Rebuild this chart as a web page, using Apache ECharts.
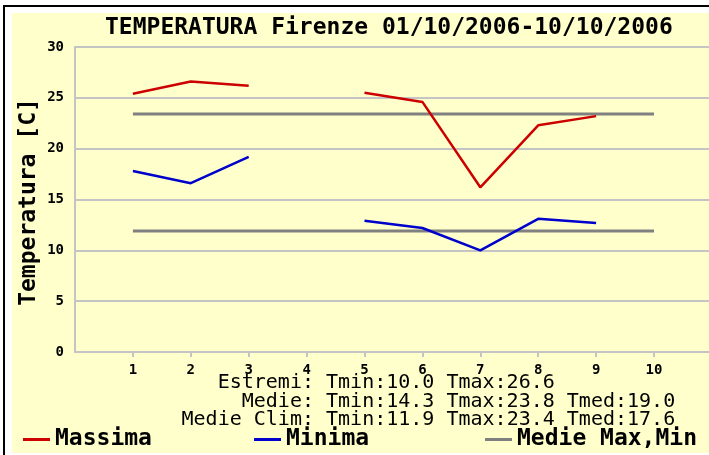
<!DOCTYPE html>
<html>
<head>
<meta charset="utf-8">
<script src="https://cdn.jsdelivr.net/npm/echarts@6/dist/echarts.min.js"></script>
<style>
  html, body { margin: 0; padding: 0; background: #fff; }
  #chart { width: 709px; height: 455px; }
</style>
</head>
<body>
<div id="chart"></div>
<script>
// giorni 1..10 ottobre 2006 (null = dato mancante)
const days = [1, 2, 3, 4, 5, 6, 7, 8, 9, 10];
const tMax = [25.4, 26.6, 26.2, null, 25.5, 24.6, 16.2, 22.3, 23.2, null];
const tMin = [17.8, 16.6, 19.2, null, 12.9, 12.2, 10.0, 13.1, 12.7, null];
// medie climatiche
const climDays = [1, 10];
const climMax = [23.4, 23.4];
const climMin = [11.9, 11.9];
const xTicks = [1, 2, 3, 4, 5, 6, 7, 8, 9, 10];
const statLines = [
    'Estremi: Tmin:10.0 Tmax:26.6',
    'Medie: Tmin:14.3 Tmax:23.8 Tmed:19.0',
    'Medie Clim: Tmin:11.9 Tmax:23.4 Tmed:17.6'
];
const statPrefix = [9, 7, 12]; // caratteri prima di "Tmin"

const mono = '"DejaVu Sans Mono", monospace';
const pairs = (xs, ys) => xs.map((x, i) => [x, ys[i]]);

let chart = echarts.init(document.getElementById('chart'));

let graphics = [
    { type: 'rect', z: -10, shape: { x: 12, y: 13, width: 697, height: 440 }, style: { fill: '#ffffcc' } },
    { type: 'line', z: -10, shape: { x1: 4, y1: 5, x2: 4, y2: 455 }, style: { stroke: '#000', lineWidth: 2 } },
    { type: 'line', z: -10, shape: { x1: 3, y1: 6, x2: 709, y2: 6 }, style: { stroke: '#000', lineWidth: 2 } },
    {
        type: 'text', x: 29, y: 202, rotation: Math.PI / 2,
        style: { text: 'Temperatura [C]', font: 'bold 23px ' + mono, fill: '#000', align: 'center', verticalAlign: 'middle' }
    }
];
statLines.forEach((t, i) => {
    graphics.push({
        type: 'text', x: 326 - statPrefix[i] * 12.04, y: 383 + i * 18.5,
        style: { text: t, font: '20px ' + mono, fill: '#000', verticalAlign: 'middle' }
    });
});

let option = {
    backgroundColor: '#fff',
    animation: false,
    title: {
        text: 'TEMPERATURA Firenze 01/10/2006-10/10/2006',
        left: 105, top: 17, padding: 0,
        textStyle: { fontFamily: mono, fontSize: 23, fontWeight: 'bold', color: '#000' }
    },
    graphic: graphics,
    legend: [
        { left: 23, data: ['Massima'] },
        { left: 254, data: ['Minima'] },
        { left: 485, data: ['Medie Max,Min'] }
    ].map(l => Object.assign({
        top: 428, padding: 0, icon: 'rect', itemWidth: 27, itemHeight: 3, itemGap: 0,
        textStyle: { fontFamily: mono, fontSize: 23, fontWeight: 'bold', color: '#000', padding: [0, 0, 0, 0] }
    }, l)),
    grid: { left: 75, top: 47, right: 0, bottom: 103 },
    xAxis: {
        type: 'value', min: 0, max: 10.95,
        splitLine: { show: false },
        axisLine: { lineStyle: { color: '#c4c4c4', width: 2 } },
        axisTick: { customValues: xTicks, length: 5, lineStyle: { color: '#c4c4c4', width: 2 } },
        axisLabel: { customValues: xTicks, margin: 11, color: '#000', fontFamily: mono, fontSize: 14, fontWeight: 'bold' }
    },
    yAxis: {
        type: 'value', min: 0, max: 30, interval: 5,
        axisLine: { show: true, lineStyle: { color: '#c4c4c4', width: 2 } },
        axisTick: { show: false },
        splitLine: { lineStyle: { color: '#c4c4c4', width: 2 } },
        axisLabel: { margin: 11, color: '#000', fontFamily: mono, fontSize: 14, fontWeight: 'bold' }
    },
    series: [
        {
            name: 'Massima', type: 'line', data: pairs(days, tMax), showSymbol: false, connectNulls: false,
            color: '#cc0000', lineStyle: { width: 2.5 }
        },
        {
            name: 'Minima', type: 'line', data: pairs(days, tMin), showSymbol: false, connectNulls: false,
            color: '#0000cc', lineStyle: { width: 2.5 }
        },
        {
            name: 'Medie Max,Min', type: 'line', data: pairs(climDays, climMax), showSymbol: false,
            color: '#808080', lineStyle: { width: 3 }, z: 1
        },
        {
            name: 'Medie Max,Min', type: 'line', data: pairs(climDays, climMin), showSymbol: false,
            color: '#808080', lineStyle: { width: 3 }, z: 1
        }
    ]
};
chart.setOption(option);
</script>
</body>
</html>
